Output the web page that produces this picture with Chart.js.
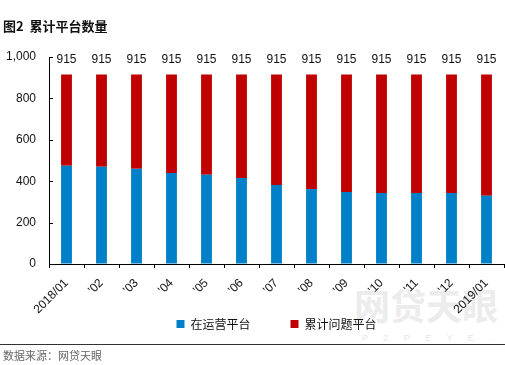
<!DOCTYPE html>
<html>
<head>
<meta charset="utf-8">
<script src="https://cdn.jsdelivr.net/npm/chart.js@4"></script>
<style>
  body { margin: 0; background: #fff; font-family: "Liberation Sans", "Noto Sans CJK SC", sans-serif; }
  #wrap { position: relative; width: 505px; height: 365px; overflow: hidden; }
  #chart { position: absolute; left: 0; top: 0; }
  .title { position: absolute; left: 3px; top: 16px; font-size: 13px; font-weight: bold; color: #111; font-family: "Noto Sans CJK SC", sans-serif; }
  .rule { position: absolute; left: 0; top: 344px; width: 505px; height: 1px; background: #333; }
  .source { position: absolute; left: 3px; top: 347px; font-size: 11px; color: #666; font-family: "Noto Sans CJK SC", sans-serif; }
  .wm { position: absolute; left: 354px; top: 282px; font-size: 36px; line-height: 44px; font-weight: bold; color: #ececec; font-family: "Noto Sans CJK SC", sans-serif; white-space: nowrap; }
  .wm2 { position: absolute; left: 362px; top: 333px; font-size: 9px; line-height: 10px; color: #e6e6e6; letter-spacing: 6.5px; white-space: nowrap; }
</style>
</head>
<body>
<div id="wrap">
  <div class="wm">网贷天眼</div>
  <div class="wm2">P 2 P E Y E . C O M</div>
  <canvas id="chart" width="505" height="365"></canvas>
  <div class="title">图2&nbsp;&nbsp;累计平台数量</div>
  <div class="rule"></div>
  <div class="source">数据来源：网贷天眼</div>
</div>
<script>
const months = ['2018/01', "'02", "'03", "'04", "'05", "'06", "'07", "'08", "'09", "'10", "'11", "'12", '2019/01'];
const operating = [475, 470, 460, 440, 431, 416, 382, 362, 348, 343, 343, 343, 330];
const total = [915, 915, 915, 915, 915, 915, 915, 915, 915, 915, 915, 915, 915];
const problem = total.map((t, i) => t - operating[i]);

const BLUE = '#0080C8';
const RED = '#C00000';

// totals above each stack
const totalLabels = {
    id: 'totalLabels',
    afterDatasetsDraw(chart) {
        const ctx = chart.ctx;
        const meta = chart.getDatasetMeta(1);
        ctx.save();
        ctx.font = '12px "Liberation Sans", sans-serif';
        ctx.fillStyle = '#111';
        ctx.textAlign = 'center';
        ctx.textBaseline = 'bottom';
        meta.data.forEach((bar, i) => {
            ctx.fillText(total[i], bar.x, bar.y - 9);
        });
        ctx.restore();
    }
};

// inward tick marks on the y axis
const innerTicks = {
    id: 'innerTicks',
    afterDraw(chart) {
        const ctx = chart.ctx;
        const y = chart.scales.y;
        ctx.save();
        ctx.strokeStyle = '#000';
        ctx.lineWidth = 1;
        y.ticks.forEach(t => {
            const py = Math.round(y.getPixelForValue(t.value)) + 0.5;
            ctx.beginPath();
            ctx.moveTo(y.right, py);
            ctx.lineTo(y.right + 4, py);
            ctx.stroke();
        });
        ctx.restore();
    }
};

// x labels are allowed to hang down past the (shrunk) axis box
const unclipX = {
    id: 'unclipX',
    afterLayout(chart) {
        chart.scales.x.bottom = chart.height;
    }
};

new Chart(document.getElementById('chart'), {
    type: 'bar',
    data: {
        labels: months,
        datasets: [
            { label: '在运营平台', data: operating, backgroundColor: BLUE, barPercentage: 0.62, categoryPercentage: 0.5 },
            { label: '累计问题平台', data: problem, backgroundColor: RED, barPercentage: 0.62, categoryPercentage: 0.5 }
        ]
    },
    options: {
        responsive: false,
        animation: false,
        layout: { padding: { top: 57, right: 1, left: 2, bottom: 25 } },
        plugins: {
            legend: {
                position: 'bottom',
                fullSize: false,
                labels: {
                    boxWidth: 8, boxHeight: 8, padding: 40,
                    color: '#111',
                    font: { size: 12, family: '"Noto Sans CJK SC", sans-serif' }
                }
            },
            tooltip: { enabled: false }
        },
        scales: {
            x: {
                stacked: true,
                grid: { display: true, drawOnChartArea: false, offset: true, tickLength: 4, color: '#000' },
                border: { display: true, color: '#000' },
                ticks: {
                    minRotation: 45, maxRotation: 45, color: '#111', padding: 8,
                    font: { size: 12, family: '"Liberation Sans", sans-serif' }
                },
                afterFit: s => { s.paddingLeft = 0; s.paddingRight = 0; s.height = 14; }
            },
            y: {
                stacked: true,
                min: 0, max: 1000,
                grid: { display: true, drawOnChartArea: false, drawTicks: false },
                border: { display: true, color: '#000' },
                ticks: {
                    stepSize: 200, padding: 13, color: '#111',
                    font: { size: 12, family: '"Liberation Sans", sans-serif' },
                    callback: v => v.toLocaleString('en-US')
                },
                afterFit: s => { s.width = 47; s.paddingTop = 0; s.paddingBottom = 0; }
            }
        }
    },
    plugins: [totalLabels, innerTicks, unclipX]
});
</script>
</body>
</html>
